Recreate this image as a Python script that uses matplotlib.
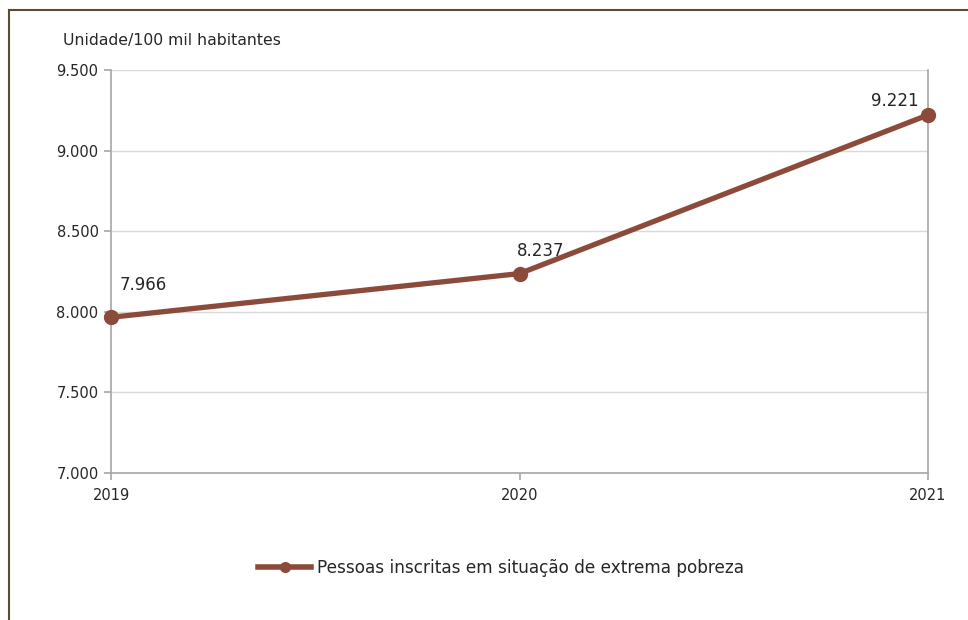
import matplotlib.pyplot as plt
from matplotlib.ticker import FuncFormatter
from matplotlib.lines import Line2D
from matplotlib.patches import Rectangle

years = [2019, 2020, 2021]
values = [7966, 8237, 9221]
series_name = "Pessoas inscritas em situação de extrema pobreza"
unit_label = "Unidade/100 mil habitantes"
y_ticks = [7000, 7500, 8000, 8500, 9000, 9500]

line_color = "#8C4A3A"
grid_color = "#D9D9D9"
axis_color = "#A6A6A6"
text_color = "#262626"

plt.rcParams["font.family"] = ["DejaVu Sans"]

fig = plt.figure(figsize=(9.68, 6.2), dpi=100)
ax = fig.add_axes([111 / 968, 1 - 473 / 620, (928 - 111) / 968, (473 - 70) / 620])

ax.plot(years, values, color=line_color, lw=3.8, marker="o", ms=10,
        solid_capstyle="round", zorder=3, clip_on=False)

ax.set_xlim(years[0], years[-1])
ax.set_ylim(y_ticks[0], y_ticks[-1])
ax.set_yticks(y_ticks)
ax.set_xticks(years)
ax.yaxis.set_major_formatter(FuncFormatter(lambda v, _: f"{int(v):,}".replace(",", ".")))
ax.grid(axis="y", color=grid_color, lw=1)
ax.set_axisbelow(True)

for side in ["left", "bottom", "right"]:
    ax.spines[side].set_color(axis_color)
    ax.spines[side].set_linewidth(1.2)
ax.spines["top"].set_visible(False)
ax.tick_params(axis="both", colors=axis_color, labelcolor=text_color,
               labelsize=10.5, length=5, width=1.2)
ax.tick_params(axis="x", pad=6)
ax.tick_params(axis="y", pad=4)

# value labels (offsets in points from each marker)
offsets = [(6.5, 23, "left"), (-2, 16.5, "left"), (-7, 10, "right")]
for x, v, (dx, dy, ha) in zip(years, values, offsets):
    ax.annotate(f"{v:,}".replace(",", "."), (x, v), xytext=(dx, dy),
                textcoords="offset points", ha=ha, va="center",
                fontsize=12, color=text_color)

fig.text(63 / 968, 1 - 41 / 620, unit_label, fontsize=11.3, color=text_color,
         ha="left", va="center")

handle = Line2D([], [], color=line_color, lw=4, marker="o", ms=7)
fig.legend([handle], [series_name], loc="center", bbox_to_anchor=(501 / 968, 1 - 568 / 620),
           frameon=False, fontsize=12.2, handlelength=3.1, handletextpad=0.35,
           labelcolor=text_color)

# outer frame
fig.patches.append(Rectangle((8.5 / 968, -0.01), 1.2, 1 - 9.5 / 620 + 0.01,
                             transform=fig.transFigure, fill=False,
                             edgecolor="#5C4B32", lw=1.5))

fig.savefig("out.png", dpi=100)
